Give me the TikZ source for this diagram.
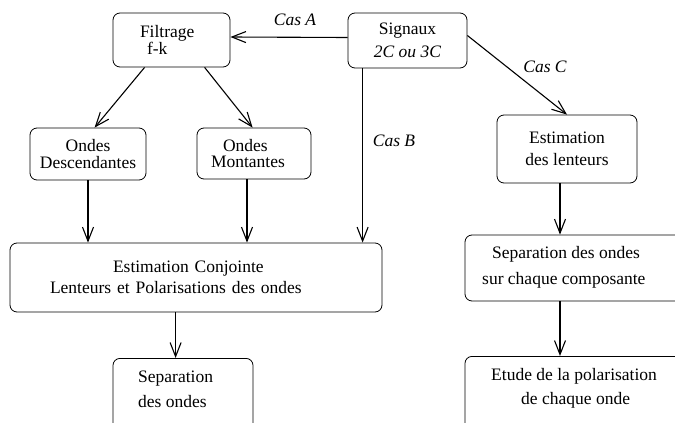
\documentclass[tikz,border=0pt]{standalone}
\usepackage{fontspec}
\setmainfont{Liberation Serif}
\usetikzlibrary{arrows.meta}
\tikzset{
  box/.style={draw, line width=0.8pt, rounded corners=7pt, inner sep=0pt},
  fnt/.style={font=\fontsize{17.5}{#1}\selectfont},
  txt/.style={inner sep=0pt, align=left, anchor=north west},
  arr/.style={line width=1.1pt, -{Straight Barb[length=14pt,width=11pt,line width=1.1pt]}},
  lab/.style={inner sep=0pt, font=\fontsize{17.5}{21}\selectfont\itshape},
}
\begin{document}
\begin{tikzpicture}[x=1pt,y=-1pt]
\useasboundingbox (0,0) rectangle (675,423);
\clip (0,0) rectangle (675,423);
% boxes
\node[box, fnt=17, minimum width=117pt, minimum height=54pt, text width=63pt, inner xsep=27pt, align=left] (filt) at (171.5,40) {Filtrage\\\hspace*{7pt}f-k};
\node[box, fnt=23, minimum width=119pt, minimum height=55pt, align=center] (sig) at (407.5,40.5) {Signaux\\\textit{2C ou 3C}};
\node[box, fnt=16.5, minimum width=116pt, minimum height=52pt, align=center] (ondD) at (88,154) {Ondes\\Descendantes};
\node[box, fnt=16.5, minimum width=114pt, minimum height=51pt, text width=86pt, inner xsep=14pt, align=left] (ondM) at (254,153.5) {\hspace*{12pt}Ondes\\Montantes};
\node[box, fnt=20.5, minimum width=372pt, minimum height=69pt, text width=292pt, inner xsep=40pt, align=left] (conj) at (196,277.5) {\hspace*{63pt}Estimation Conjointe\\Lenteurs et Polarisations des ondes};
\node[box, minimum width=140pt, minimum height=90pt, anchor=north] (sepA) at (183,358) {};
\node[txt, fnt=25] (sepAt) at (138,371) {Separation\\des ondes};
\node[box, fnt=22, minimum width=140pt, minimum height=68pt, align=center] (lent) at (567,149) {Estimation\\des lenteurs};
\node[box, minimum width=225pt, minimum height=66pt] (sepR) at (577.5,268) {};
\node[txt, fnt=26] (sepRt) at (482,246) {\hspace*{10pt}Separation des ondes\\sur chaque composante};
\node[box, minimum width=225pt, minimum height=100pt, anchor=north] (etude) at (577.5,356) {};
\node[txt, fnt=24] (etudet) at (491,368) {Etude de la polarisation\\\hspace*{30pt}de chaque onde};
% coordinates
\coordinate (sb) at ([xshift=15pt]sig.south west);
\coordinate (mb) at ([xshift=-7pt]ondM.south);
\coordinate (cb) at ([xshift=166pt]conj.south west);
\coordinate (lb) at ([xshift=-7pt]lent.south);
% connectors
\draw[arr] ([yshift=3pt]sig.west) -- ([yshift=3pt]filt.east);
\node[lab] (casA) at (295,20) {Cas A};
\draw[arr] ([xshift=32pt]filt.south west) -- ([xshift=65pt]ondD.north west);
\draw[arr] ([xshift=92pt]filt.south west) -- ([xshift=56pt]ondM.north west);
\draw[arr] (sb) -- (sb |- conj.north);
\node[lab] (casB) at (394,141) {Cas B};
\draw[arr] ([yshift=5pt]sig.east) -- (lent.north);
\node[lab] (casC) at (545,67) {Cas C};
\draw[arr] (ondD.south) -- (ondD.south |- conj.north);
\draw[arr] (mb) -- (mb |- conj.north);
\draw[arr] (cb) -- (cb |- sepA.north);
\draw[arr] (lb) -- (lb |- sepR.north);
\draw[arr] (lb |- sepR.south) -- (lb |- etude.north);
\end{tikzpicture}
\end{document}
